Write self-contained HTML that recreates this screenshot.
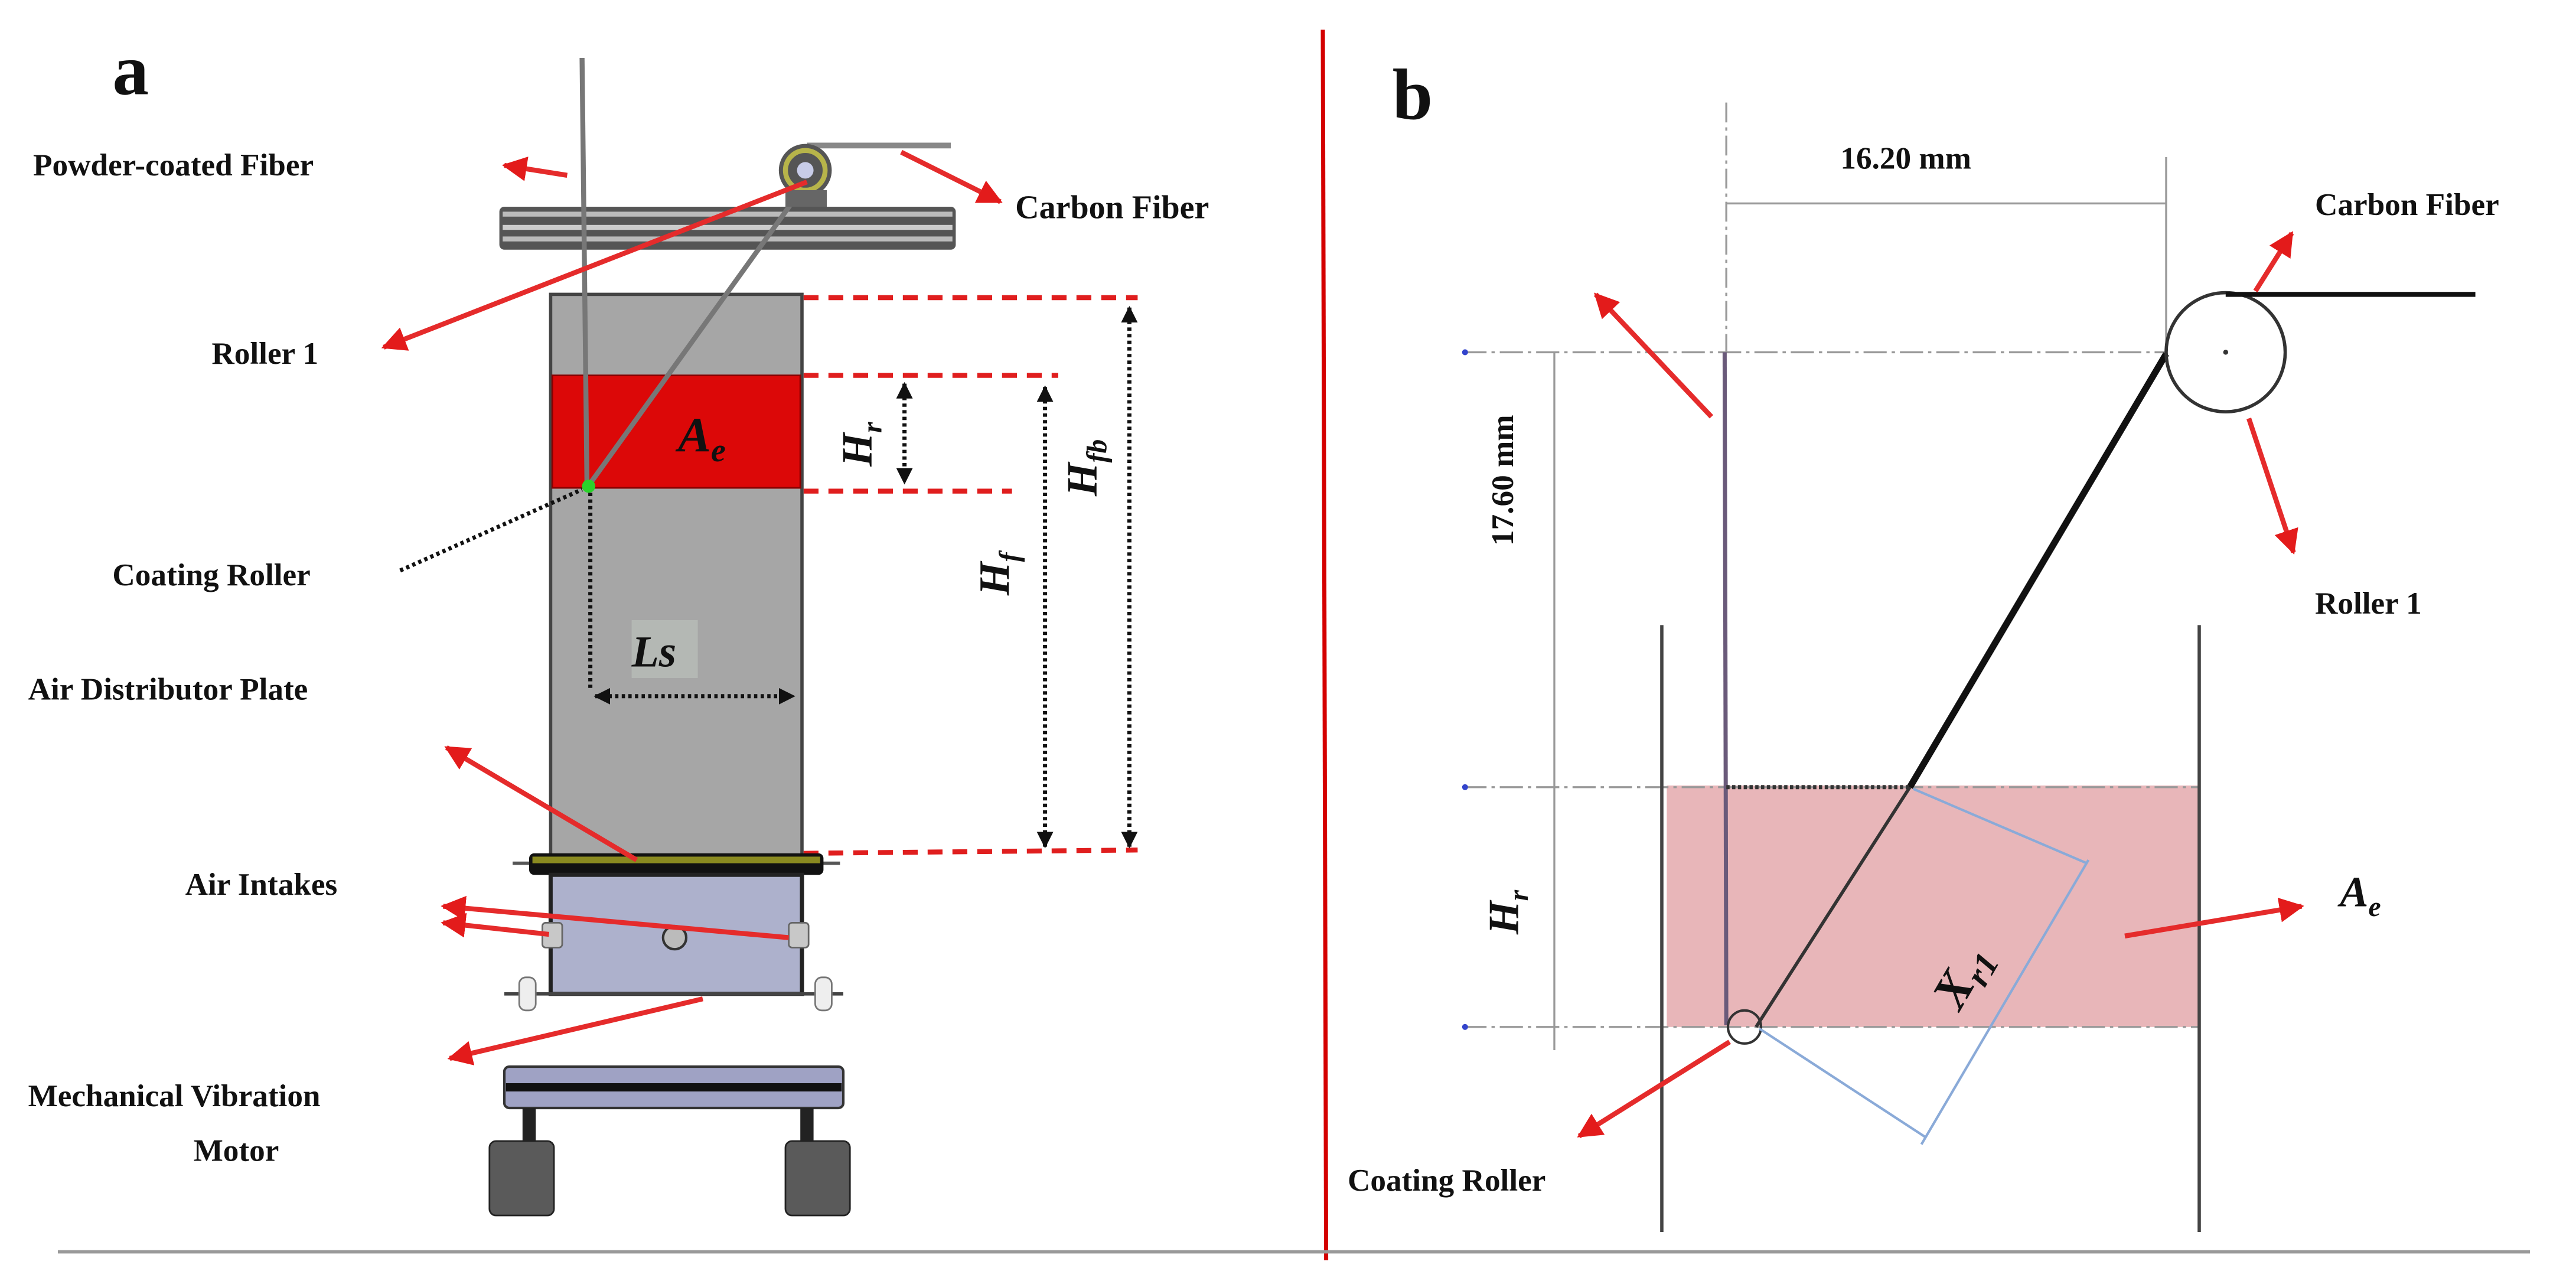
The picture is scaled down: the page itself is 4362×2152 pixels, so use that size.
<!DOCTYPE html>
<html><head><meta charset="utf-8"><style>
html,body{margin:0;padding:0;background:#fff;}
svg{display:block;}
text{font-family:"Liberation Serif",serif;font-weight:bold;fill:#111;}
.m{font-style:italic;}
</style></head><body>
<svg width="4362" height="2152" viewBox="0 0 1557.86 768.57" preserveAspectRatio="none" xmlns="http://www.w3.org/2000/svg">
<defs>
<marker id="ar" viewBox="0 0 10 10" refX="9" refY="5" markerWidth="5" markerHeight="5" orient="auto"><path d="M0,0L10,5L0,10z" fill="#e31b1b"/></marker>
<marker id="ak" viewBox="0 0 10 10" refX="9" refY="5" markerWidth="4" markerHeight="4" orient="auto-start-reverse"><path d="M0,0L10,5L0,10z" fill="#111"/></marker>
</defs>
<rect width="1557.86" height="768.57" fill="#fff"/>
<!-- separators -->
<line x1="800" y1="18" x2="802" y2="762" stroke="#d40000" stroke-width="2.5"/>
<line x1="35" y1="757" x2="1530" y2="757" stroke="#999" stroke-width="2"/>
<text x="68" y="57" font-size="44">a</text>
<text x="842" y="72" font-size="44">b</text>

<!-- PANEL A -->
<!-- rail -->
<rect x="302" y="125" width="276" height="26" rx="3" fill="#555"/>
<rect x="304" y="128" width="272" height="3" fill="#bbb"/>
<rect x="304" y="136" width="272" height="3" fill="#ccc"/>
<rect x="304" y="143" width="272" height="3" fill="#bbb"/>
<!-- column -->
<rect x="333" y="178" width="152" height="340" fill="#a6a6a6" stroke="#444" stroke-width="2"/>
<rect x="334" y="227" width="150" height="68" fill="#dc0808" stroke="#800" stroke-width="1"/>
<!-- fibers -->
<line x1="352" y1="35" x2="355" y2="295" stroke="#777" stroke-width="3"/>
<line x1="488" y1="110" x2="355" y2="295" stroke="#777" stroke-width="3"/>
<line x1="488" y1="88" x2="575" y2="88" stroke="#888" stroke-width="3.5"/>
<!-- roller 1 -->
<circle cx="487" cy="103" r="16" fill="#555"/>
<circle cx="487" cy="103" r="12" fill="none" stroke="#b7b44a" stroke-width="3"/>
<circle cx="487" cy="103" r="5" fill="#c8cce8"/>
<rect x="475" y="115" width="25" height="10" fill="#666"/>
<circle cx="356" cy="294" r="4" fill="#2bd22b"/>
<text x="410" y="273" font-size="30" class="m" fill="#111">A<tspan font-size="20" dy="6">e</tspan></text>
<!-- red dashed -->
<g stroke="#e01e1e" stroke-width="3" stroke-dasharray="9,6" fill="none">
<line x1="486" y1="180" x2="688" y2="180"/>
<line x1="486" y1="227" x2="640" y2="227"/>
<line x1="486" y1="297" x2="612" y2="297"/>
<line x1="486" y1="516" x2="688" y2="514"/>
</g>
<!-- dim arrows -->
<g stroke="#111" stroke-width="2.5" stroke-dasharray="2,2" fill="none">
<line x1="547" y1="232" x2="547" y2="292" marker-start="url(#ak)" marker-end="url(#ak)"/>
<line x1="632" y1="234" x2="632" y2="512" marker-start="url(#ak)" marker-end="url(#ak)"/>
<line x1="683" y1="186" x2="683" y2="512" marker-start="url(#ak)" marker-end="url(#ak)"/>
<line x1="357" y1="298" x2="357" y2="418"/>
<line x1="360" y1="421" x2="480" y2="421" marker-start="url(#ak)" marker-end="url(#ak)"/>
<line x1="242" y1="345" x2="352" y2="296"/>
</g>
<text transform="translate(527,282) rotate(-90)" font-size="26" class="m">H<tspan font-size="17" dy="6">r</tspan></text>
<text transform="translate(610,360) rotate(-90)" font-size="26" class="m">H<tspan font-size="17" dy="6">f</tspan></text>
<text transform="translate(663,300) rotate(-90)" font-size="26" class="m">H<tspan font-size="17" dy="6">fb</tspan></text>
<rect x="382" y="375" width="40" height="35" fill="#b4b8b4"/>
<text x="382" y="403" font-size="27" class="m">Ls</text>
<!-- distributor plate -->
<line x1="310" y1="522" x2="508" y2="522" stroke="#555" stroke-width="2"/>
<rect x="320" y="516" width="178" height="13" rx="3" fill="#111"/>
<rect x="322" y="518" width="174" height="4" fill="#8a8a20"/>
<!-- lower box -->
<rect x="333" y="529" width="152" height="72" fill="#adb1cc" stroke="#222" stroke-width="2.5"/>
<line x1="305" y1="601" x2="510" y2="601" stroke="#444" stroke-width="2"/>
<circle cx="408" cy="567" r="7" fill="#bbb" stroke="#333" stroke-width="1.5"/>
<rect x="328" y="558" width="12" height="15" rx="2" fill="#c8c8c8" stroke="#666"/>
<rect x="477" y="558" width="12" height="15" rx="2" fill="#c8c8c8" stroke="#666"/>
<rect x="314" y="591" width="10" height="20" rx="4" fill="#eee" stroke="#777"/>
<rect x="493" y="591" width="10" height="20" rx="4" fill="#eee" stroke="#777"/>
<!-- motor -->
<rect x="305" y="645" width="205" height="25" rx="3" fill="#9fa2c4" stroke="#333" stroke-width="1.5"/>
<rect x="306" y="655" width="203" height="5" fill="#111"/>
<rect x="316" y="670" width="8" height="22" fill="#222"/>
<rect x="484" y="670" width="8" height="22" fill="#222"/>
<rect x="296" y="690" width="39" height="45" rx="4" fill="#5a5a5a" stroke="#222"/>
<rect x="475" y="690" width="39" height="45" rx="4" fill="#5a5a5a" stroke="#222"/>
<!-- red pointers A -->
<g stroke="#e52b2b" stroke-width="3" fill="none" marker-end="url(#ar)">
<line x1="343" y1="106" x2="305" y2="100"/>
<line x1="545" y1="92" x2="605" y2="122"/>
<line x1="488" y1="110" x2="232" y2="210"/>
<line x1="385" y1="520" x2="270" y2="452"/>
<line x1="477" y1="567" x2="268" y2="548"/>
<line x1="332" y1="565" x2="268" y2="558"/>
<line x1="425" y1="604" x2="272" y2="640"/>
</g>
<g font-size="19">
<text x="20" y="106">Powder-coated Fiber</text>
<text x="614" y="132" font-size="20">Carbon  Fiber</text>
<text x="128" y="220">Roller 1</text>
<text x="68" y="354">Coating Roller</text>
<text x="17" y="423">Air Distributor Plate</text>
<text x="112" y="541">Air Intakes</text>
<text x="17" y="669">Mechanical Vibration</text>
<text x="117" y="702">Motor</text>
</g>

<!-- PANEL B -->
<rect x="1008" y="475" width="322" height="146" fill="#e8b6b9"/>
<g stroke="#999" stroke-width="1.2" fill="none">
<line x1="1044" y1="62" x2="1044" y2="213" stroke-dasharray="12,3,2,3"/>
<line x1="885" y1="213" x2="1310" y2="213" stroke-dasharray="14,3,2,3"/>
<line x1="885" y1="476" x2="1330" y2="476" stroke-dasharray="14,3,2,3"/>
<line x1="885" y1="621" x2="1330" y2="621" stroke-dasharray="14,3,2,3"/>
<line x1="1044" y1="123" x2="1310" y2="123"/>
<line x1="1310" y1="95" x2="1310" y2="213"/>
<line x1="940" y1="213" x2="940" y2="635"/>
</g>
<g fill="#3344cc"><circle cx="886" cy="213" r="1.8"/><circle cx="886" cy="476" r="1.8"/><circle cx="886" cy="621" r="1.8"/></g>
<line x1="1005" y1="378" x2="1005" y2="745" stroke="#444" stroke-width="2"/>
<line x1="1330" y1="378" x2="1330" y2="745" stroke="#444" stroke-width="2"/>
<line x1="1043" y1="213" x2="1044" y2="620" stroke="#6a5a7a" stroke-width="2.5"/>
<line x1="1310" y1="214" x2="1155" y2="476" stroke="#111" stroke-width="4"/>
<line x1="1155" y1="476" x2="1062" y2="621" stroke="#333" stroke-width="2"/>
<line x1="1044" y1="476" x2="1155" y2="476" stroke="#333" stroke-width="2.5" stroke-dasharray="2,1.5"/>
<circle cx="1346" cy="213" r="36" fill="none" stroke="#333" stroke-width="2"/>
<circle cx="1346" cy="213" r="1.5" fill="#333"/>
<line x1="1346" y1="178" x2="1497" y2="178" stroke="#111" stroke-width="3"/>
<circle cx="1055" cy="621" r="10" fill="none" stroke="#333" stroke-width="1.5"/>
<g stroke="#8aaad8" stroke-width="1.5" fill="none">
<line x1="1157" y1="477" x2="1262" y2="522"/>
<line x1="1064" y1="622" x2="1165" y2="688"/>
<line x1="1263" y1="520" x2="1162" y2="692"/>
</g>
<text transform="translate(1185,612) rotate(-60)" font-size="30" class="m">X<tspan font-size="21" dy="6">r1</tspan></text>
<text x="1113" y="102" font-size="19">16.20 mm</text>
<text transform="translate(915,330) rotate(-90)" font-size="19">17.60 mm</text>
<text transform="translate(918,565) rotate(-90)" font-size="26" class="m">H<tspan font-size="17" dy="6">r</tspan></text>
<text x="1415" y="548" font-size="26" class="m">A<tspan font-size="17" dy="6">e</tspan></text>
<g stroke="#e52b2b" stroke-width="3" fill="none" marker-end="url(#ar)">
<line x1="1035" y1="252" x2="965" y2="178"/>
<line x1="1364" y1="176" x2="1386" y2="141"/>
<line x1="1360" y1="253" x2="1387" y2="334"/>
<line x1="1285" y1="566" x2="1392" y2="548"/>
<line x1="1046" y1="630" x2="955" y2="687"/>
</g>
<g font-size="19">
<text x="1400" y="130">Carbon Fiber</text>
<text x="1400" y="371">Roller 1</text>
<text x="815" y="720">Coating Roller</text>
</g>
</svg>
</body></html>
